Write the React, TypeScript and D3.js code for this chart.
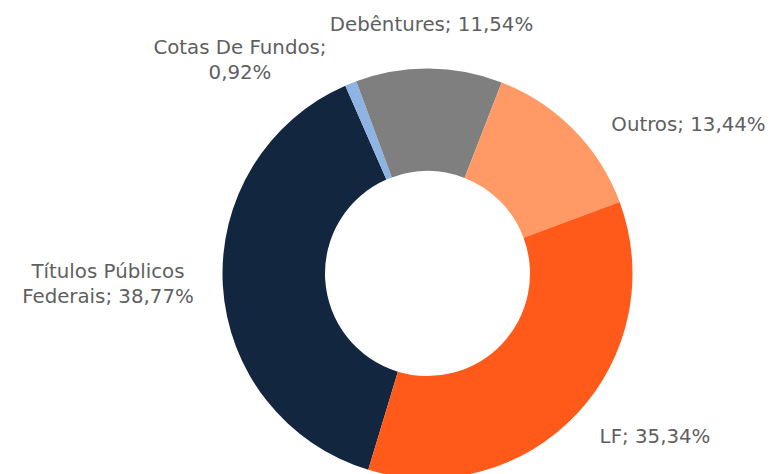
import React from "react";
import * as d3 from "d3";

const categories = ["Títulos Públicos Federais", "Cotas De Fundos", "Debêntures", "Outros", "LF"];
const values = [38.77, 0.92, 11.54, 13.44, 35.34];
const valueLabels = ["38,77%", "0,92%", "11,54%", "13,44%", "35,34%"];
const labelLines = [
  ["Títulos Públicos", "Federais; 38,77%"],
  ["Cotas De Fundos;", "0,92%"],
  ["Debêntures; 11,54%"],
  ["Outros; 13,44%"],
  ["LF; 35,34%"],
];
const colors = ["#12263F", "#8DB4E2", "#7F7F7F", "#FF9966", "#FF5A1A"];

// label layout (center x, first baseline y)
const labelPos: [number, number][] = [
  [108, 277.5],
  [240, 53.5],
  [431.5, 31],
  [688.5, 130.5],
  [655, 443],
];

const W = 769;
const H = 474;
const cx = 427.5;
const cy = 273.5;
const outerR = 205;
const innerR = 102.5;
const startDeg = 196.8;

export default function App() {
  const pie = d3
    .pie<number>()
    .sort(null)
    .value((d) => d)
    .startAngle((startDeg * Math.PI) / 180)
    .endAngle(((startDeg + 360) * Math.PI) / 180);
  const arcs = pie(values);
  const arc = d3.arc<d3.PieArcDatum<number>>().innerRadius(innerR).outerRadius(outerR);
  return (
    <svg
      width={W}
      height={H}
      style={{ position: "absolute", left: 0, top: 0, display: "block" }}
      fontFamily="'DejaVu Sans', Verdana, sans-serif"
    >
      <rect width={W} height={H} fill="#ffffff" />
      <g transform={`translate(${cx},${cy})`}>
        {arcs.map((a, i) => (
          <path key={categories[i]} d={arc(a) || ""} fill={colors[i]} />
        ))}
      </g>
      {labelLines.map((lines, i) => (
        <text
          key={valueLabels[i]}
          x={labelPos[i][0]}
          y={labelPos[i][1]}
          textAnchor="middle"
          fontSize={19.8}
          fill="#5f5f5f"
        >
          {lines.map((l, j) => (
            <tspan key={j} x={labelPos[i][0]} dy={j === 0 ? 0 : 25.5}>
              {l}
            </tspan>
          ))}
        </text>
      ))}
    </svg>
  );
}
